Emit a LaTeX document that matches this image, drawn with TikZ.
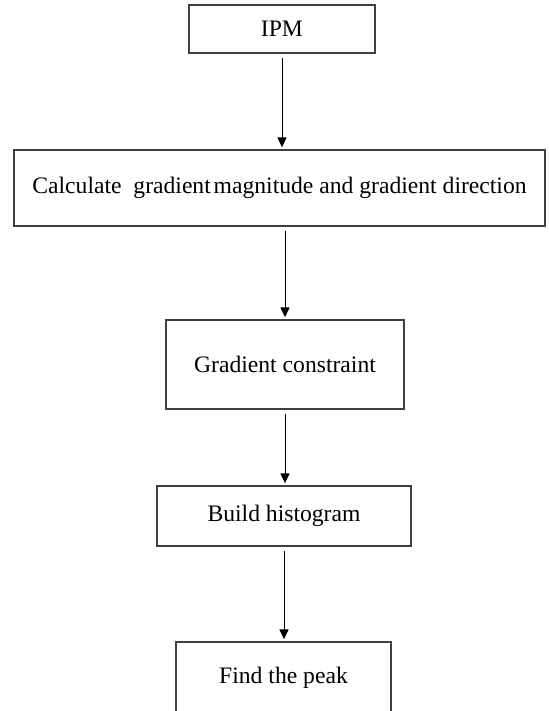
\documentclass[tikz,border=0pt]{standalone}
\usepackage{fontspec}
\setmainfont{Liberation Serif}
\usetikzlibrary{arrows.meta}

\begin{document}
\begin{tikzpicture}[x=0.025cm, y=-0.025cm,
  stepbox/.style={draw=black!75, line width=0.9pt, rectangle, inner sep=0pt,
    font=\fontsize{16.8}{20}\selectfont},
  flow/.style={-{Triangle[length=7pt, width=6.4pt]}, line width=0.7pt,
    shorten <=3pt, shorten >=1.5pt}]
\useasboundingbox (0,0) rectangle (548,711);

\node[stepbox, minimum width=186*0.025cm, minimum height=48*0.025cm] (ipm) at (282,29) {IPM};
\node[stepbox, minimum width=531*0.025cm, minimum height=76*0.025cm] (calc) at (279.5,188)
  {Calculate\ \ gradient\hspace{0.12em}magnitude and gradient direction};
\node[stepbox, minimum width=238*0.025cm, minimum height=89*0.025cm] (grad) at (285,364.5) {Gradient constraint};
\node[stepbox, minimum width=254*0.025cm, minimum height=60*0.025cm] (hist) at (284,516) {Build histogram};
\node[stepbox, minimum width=215*0.025cm, minimum height=72*0.025cm] (peak) at (283.5,678) {Find the peak};

\draw[flow] (ipm.south) -- (ipm.south |- calc.north);
\draw[flow] (calc.south -| grad.north) -- (grad.north);
\draw[flow] (grad.south) -- (grad.south |- hist.north);
\draw[flow] (hist.south) -- (hist.south |- peak.north);

\end{tikzpicture}
\end{document}
